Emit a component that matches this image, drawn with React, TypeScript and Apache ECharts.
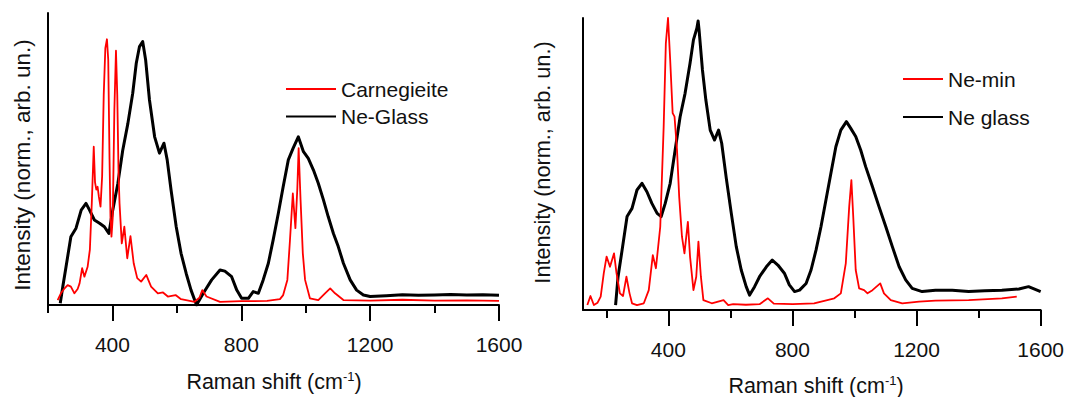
import React, { useEffect, useRef } from "react";
import * as echarts from "echarts";

// ---------- Left panel: Carnegieite vs Ne-Glass ----------
const leftRedX = [230, 240, 250, 261, 271, 282, 292, 298, 306, 313, 323, 330, 336, 342, 346, 350, 354, 358, 363, 368, 373, 378, 383, 387, 391, 394, 397, 401, 406, 411, 415, 419, 422, 429, 437, 446, 456, 466, 477, 489, 505, 520, 541, 557, 572, 596, 613, 655, 670, 679, 692, 734, 800, 880, 920, 930, 943, 951, 960, 968, 974, 978, 984, 991, 998, 1013, 1039, 1060, 1076, 1091, 1117, 1200, 1300, 1400, 1500, 1600];
const leftRedY = [1.7, 4.0, 5.5, 6.8, 6.3, 4.0, 5.5, 7.4, 12.6, 9.7, 13.1, 19, 35, 54.2, 42, 39.5, 40.5, 37, 33.7, 44, 72, 88, 91, 84, 50, 30, 23.4, 30, 66.8, 87.1, 72, 45, 34.9, 21.1, 26.8, 16, 23.6, 14.3, 9.2, 8.0, 10.3, 6.3, 4.0, 4.3, 2.9, 3.4, 2.0, 1.1, 2.5, 5.1, 2.9, 1.1, 1.3, 1.4, 2.0, 3.4, 8.6, 22, 38.2, 26.3, 40, 53.7, 36, 17.7, 8.6, 2.3, 1.7, 4.0, 5.7, 4.0, 1.7, 1.5, 1.8, 1.5, 1.6, 1.4];

const leftBlackX = [238, 246, 256, 271, 287, 303, 318, 329, 344, 360, 375, 389, 401, 417, 432, 448, 463, 474, 484, 494, 503, 515, 531, 546, 560, 570, 582, 598, 613, 629, 644, 661, 682, 708, 734, 749, 770, 786, 801, 822, 837, 853, 868, 884, 899, 915, 930, 946, 961, 977, 993, 1008, 1024, 1039, 1055, 1070, 1086, 1101, 1117, 1138, 1158, 1179, 1200, 1250, 1300, 1350, 1400, 1450, 1500, 1550, 1600];
const leftBlackY = [0.6, 6.3, 13.1, 23.4, 26.3, 32.5, 34.8, 32.5, 29.1, 28, 26.8, 24.5, 32.5, 41.7, 53, 62.2, 72.5, 82.8, 88.5, 90.2, 84, 70.2, 57.6, 52, 55.4, 49.7, 39.4, 26.8, 17.7, 10.8, 5.1, 0, 4, 8.6, 12, 11.6, 9.7, 5.1, 2.3, 2.3, 4.6, 4, 8.6, 14.3, 22.3, 31.4, 40.5, 49.7, 53.7, 57.6, 52.5, 50.2, 46.2, 41.7, 36, 30.2, 24.5, 20, 14.3, 8.6, 5.1, 3.4, 2.9, 3.2, 3.5, 3.3, 3.4, 3.6, 3.4, 3.5, 3.3];

// ---------- Right panel: Ne-min vs Ne glass ----------
const rightRedX = [139, 149, 160, 172, 182, 192, 201, 212, 225, 233, 244, 254, 265, 275, 283, 299, 321, 337, 350, 360, 374, 385, 392, 399, 406, 414, 420, 428, 435, 444, 452, 463, 470, 481, 490, 497, 505, 513, 540, 578, 593, 609, 650, 694, 721, 740, 801, 870, 935, 956, 972, 983, 990, 996, 1004, 1015, 1031, 1042, 1058, 1083, 1095, 1117, 1154, 1208, 1261, 1368, 1475, 1523];
const rightRedY = [1.7, 4.8, 1.7, 2.5, 4.6, 12.6, 18.3, 14.8, 19.4, 12.6, 5.7, 4.8, 11.4, 5.7, 2.3, 1.7, 2.3, 6.8, 18.8, 14.3, 28.5, 62.8, 91.3, 100, 85.6, 67.4, 66.2, 54.8, 38.8, 25.1, 19.4, 30.2, 18.3, 6.8, 11.4, 23.4, 11.4, 3.4, 2.3, 3.4, 1.7, 2.0, 1.8, 2.0, 4.0, 2.2, 2.0, 2.3, 4.0, 5.7, 16, 35.4, 44.5, 32, 13.7, 7.4, 6.8, 5.7, 6.8, 9.1, 5.7, 3.4, 2.3, 2.9, 3.2, 3.4, 4.0, 4.6];

const rightBlackX = [230, 238, 251, 267, 283, 299, 315, 331, 347, 364, 377, 390, 406, 422, 438, 454, 470, 481, 492, 496, 499, 510, 521, 535, 549, 562, 572, 587, 603, 619, 635, 651, 662, 678, 694, 716, 735, 753, 774, 790, 807, 823, 844, 860, 876, 892, 908, 924, 940, 956, 974, 988, 1004, 1020, 1036, 1058, 1079, 1101, 1122, 1144, 1165, 1186, 1218, 1261, 1315, 1368, 1420, 1475, 1530, 1561, 1600];
const rightBlackY = [1.7, 11.4, 20.5, 32, 34.8, 41.1, 43.4, 40.5, 36.5, 33.1, 32, 36.5, 43.4, 54.8, 66.2, 74.2, 84.5, 92.5, 96.5, 99, 96, 82.2, 71.9, 61.6, 58.2, 61.6, 57.1, 45, 33.1, 21.7, 13.7, 8, 5.1, 8, 11.4, 14.8, 17.1, 15.4, 12.6, 8.6, 6.3, 6.8, 9.1, 13.7, 20.5, 28.5, 37.7, 46.8, 55.9, 61.6, 64.5, 62.2, 59.4, 54.8, 49.1, 42.2, 35.4, 28.5, 21.7, 14.8, 10.3, 7.4, 6.3, 6.8, 6.8, 6.3, 6.6, 6.8, 7.2, 8, 6.3];

const majorTicks = [400, 800, 1200, 1600];
const leftMinorTicks = [200, 600, 1000, 1400];
const rightMinorTicks = [200, 600, 1000, 1400];

const leftNames = ["Carnegieite", "Ne-Glass"];
const rightNames = ["Ne-min", "Ne glass"];
const yTitle = "Intensity (norm., arb. un.)";

const FONT = "'Liberation Sans', Arial, Helvetica, sans-serif";
const TEXT = "#111";

const pairs = (xs: number[], ys: number[]) => xs.map((x, i) => [x, ys[i]]);

function majorAxis(grid: number, min: number) {
  return {
    type: "value",
    gridIndex: grid,
    position: "bottom",
    min,
    max: 1600,
    axisLine: { show: true, onZero: false, lineStyle: { color: "#000", width: 2 } },
    axisTick: { show: true, customValues: majorTicks, length: 16, lineStyle: { color: "#000", width: 2 } },
    axisLabel: {
      show: true,
      customValues: majorTicks,
      formatter: (v: number) => String(v),
      fontSize: 21,
      color: TEXT,
      margin: 29,
      fontFamily: FONT,
    },
    splitLine: { show: false },
  };
}
function minorAxis(grid: number, min: number, ticks: number[]) {
  return {
    type: "value",
    gridIndex: grid,
    position: "bottom",
    min,
    max: 1600,
    axisLine: { show: false, onZero: false },
    axisTick: { show: true, customValues: ticks, length: 8, lineStyle: { color: "#000", width: 2 } },
    axisLabel: { show: false },
    splitLine: { show: false },
  };
}
function yAx(grid: number) {
  return {
    type: "value",
    gridIndex: grid,
    min: 0,
    max: 100,
    axisLine: { show: true, lineStyle: { color: "#000", width: 2 } },
    axisTick: { show: false },
    axisLabel: { show: false },
    splitLine: { show: false },
  };
}
function xTitle(x: number, y: number) {
  return {
    type: "text",
    x,
    y,
    style: {
      text: "{a|Raman shift (cm}{b|-1}{a|)}",
      align: "center",
      verticalAlign: "middle",
      rich: {
        a: { fontSize: 21.5, fill: TEXT, fontFamily: FONT, lineHeight: 24, verticalAlign: "middle" },
        b: { fontSize: 13, fill: TEXT, fontFamily: FONT, lineHeight: 12, verticalAlign: "top" },
      },
    },
  };
}

export default function App() {
  const ref = useRef<HTMLDivElement>(null);
  useEffect(() => {
    if (!ref.current) return;
    const chart = echarts.init(ref.current, undefined, { renderer: "svg" });
    const line = (name: string, xi: number, yi: number, data: number[][], color: string, width: number) => ({
      type: "line",
      name,
      xAxisIndex: xi,
      yAxisIndex: yi,
      data,
      showSymbol: false,
      symbol: "none",
      smooth: false,
      color,
      lineStyle: { color, width, join: "round" },
      itemStyle: { color },
      z: color === "#000" ? 2 : 3,
    });
    chart.setOption({
      animation: false,
      backgroundColor: "#fff",
      grid: [
        { left: 48, top: 13, width: 451, height: 292 },
        { left: 583, top: 18, width: 460, height: 292 },
      ],
      xAxis: [majorAxis(0, 200), minorAxis(0, 200, leftMinorTicks), majorAxis(1, 125), minorAxis(1, 125, rightMinorTicks)],
      yAxis: [yAx(0), yAx(1)],
      legend: [
        {
          orient: "vertical",
          left: 281,
          top: 73,
          data: leftNames,
          icon: "rect",
          itemWidth: 50,
          itemHeight: 2,
          itemGap: 5.5,
          selectedMode: false,
          textStyle: { fontSize: 21, color: TEXT, fontFamily: FONT, lineHeight: 22 },
        },
        {
          orient: "vertical",
          left: 898,
          top: 63,
          data: rightNames,
          icon: "rect",
          itemWidth: 40,
          itemHeight: 2,
          itemGap: 16,
          selectedMode: false,
          textStyle: { fontSize: 21, color: TEXT, fontFamily: FONT, lineHeight: 22 },
        },
      ],
      series: [
        line(leftNames[1], 0, 0, pairs(leftBlackX, leftBlackY), "#000", 3),
        line(leftNames[0], 0, 0, pairs(leftRedX, leftRedY), "#ff0000", 1.8),
        line(rightNames[1], 2, 1, pairs(rightBlackX, rightBlackY), "#000", 3),
        line(rightNames[0], 2, 1, pairs(rightRedX, rightRedY), "#ff0000", 1.8),
      ],
      graphic: [
        {
          type: "text",
          x: 22.5,
          y: 165,
          rotation: Math.PI / 2,
          style: { text: yTitle, fontSize: 22.5, fill: TEXT, fontFamily: FONT, align: "center", verticalAlign: "middle" },
        },
        {
          type: "text",
          x: 542.7,
          y: 162.5,
          rotation: Math.PI / 2,
          style: { text: yTitle, fontSize: 21.7, fill: TEXT, fontFamily: FONT, align: "center", verticalAlign: "middle" },
        },
        xTitle(274, 381.5),
        xTitle(816, 386),
      ],
    });
    return () => chart.dispose();
  }, []);
  return (
    <div
      ref={ref}
      style={{ position: "fixed", left: 0, top: 0, width: 1067, height: 397, background: "#fff" }}
    />
  );
}
